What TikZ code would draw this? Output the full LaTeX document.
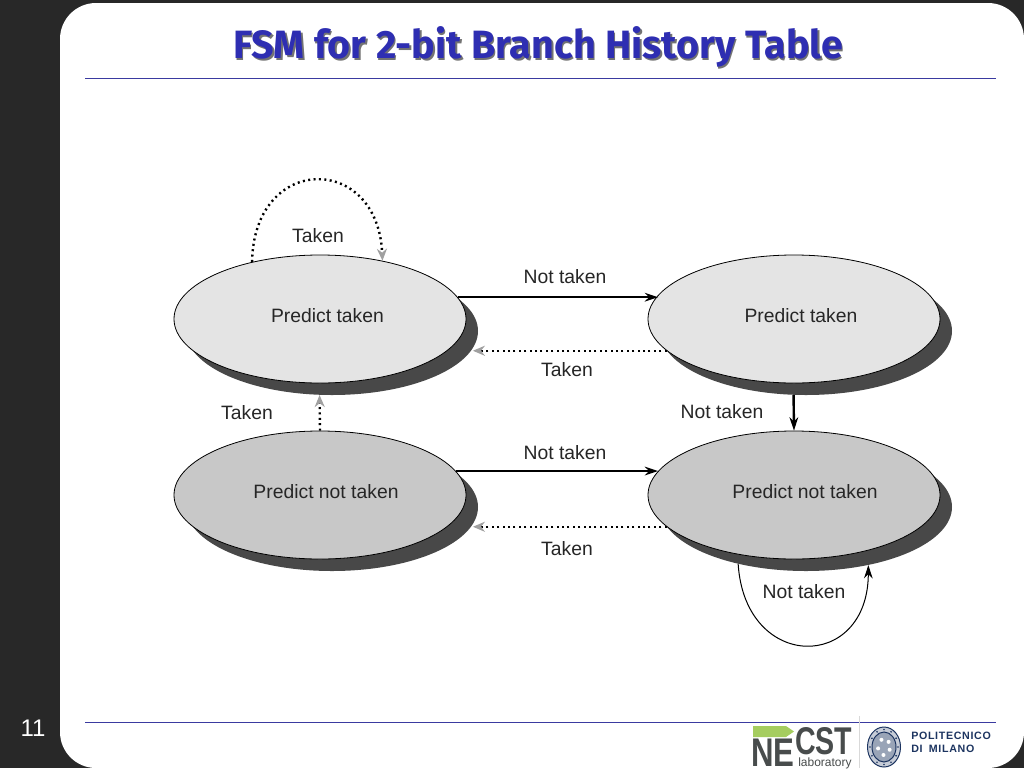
\documentclass[tikz,border=0pt]{standalone}
\usepackage{fontspec}
\setmainfont{Liberation Sans}
\newfontfamily\titlefont{Fira Sans}
\usetikzlibrary{shapes.geometric,arrows.meta}
\newlength{\du}
\setlength{\du}{0.75pt}
\definecolor{slidebg}{RGB}{40,40,40}
\definecolor{rulecolor}{RGB}{58,58,160}
\definecolor{titlecolor}{RGB}{46,46,178}
\definecolor{topfill}{RGB}{228,228,228}
\definecolor{lowfill}{RGB}{200,200,200}
\definecolor{shadowfill}{RGB}{72,72,72}
\definecolor{headgray}{RGB}{160,160,160}
\definecolor{necgreen}{RGB}{165,205,95}
\definecolor{necgray}{RGB}{72,76,76}
\definecolor{polinavy}{RGB}{28,52,96}
\tikzset{
  fsmstate/.style={ellipse,draw=black,line width=0.8\du,minimum width=292\du,minimum height=128\du,inner sep=0pt},
  fsmshadow/.style={ellipse,fill=shadowfill,minimum width=292\du,minimum height=128\du,inner sep=0pt},
  fsmtext/.style={font=\fontsize{14.5pt}{16pt}\selectfont,text=black!85,inner sep=0pt},
  taken/.style={line width=2.4\du,dash pattern=on 2\du off 3.4\du,-{Stealth[length=9pt,width=7.5pt,color=headgray]}},
  nottaken/.style={line width=2.4\du,-{Stealth[length=10pt,width=6.5pt,color=black]}},
  logotext/.style={inner sep=0pt,anchor=base west,text depth=0pt,text=necgray},
  politext/.style={inner sep=0pt,anchor=base west,text depth=0pt,text=polinavy,font=\bfseries\fontsize{8pt}{9pt}\selectfont},
}
\begin{document}
\begin{tikzpicture}[x=\du,y=-\du]
\useasboundingbox (0,0) rectangle (1024,768);
% slide
\fill[slidebg] (0,0) rectangle (1024,768);
\fill[white,rounded corners=36\du] (60,3) -- (1024,3) -- (1024,768) -- (60,768) -- cycle;
\node (fsmtitleb) [inner sep=0pt,font=\titlefont\bfseries\fontsize{29.6pt}{32pt}\selectfont,text=black!55] at (539.5,48.5) {FSM for 2-bit Branch History Table};
\node (fsmtitle) [inner sep=0pt,font=\titlefont\bfseries\fontsize{29.6pt}{32pt}\selectfont,text=titlecolor] at (538,47) {FSM for 2-bit Branch History Table};
\coordinate (rulea) at (85,78);
\coordinate (ruleb) at (996,78);
\coordinate (rulec) at (85,722);
\coordinate (ruled) at (996,722);
\draw[rulecolor,line width=1\du] (rulea) -- (ruleb);
\draw[rulecolor,line width=1\du] (rulec) -- (ruled);
\node (pagenum) [text=white,inner sep=0pt,font=\fontsize{18pt}{20pt}\selectfont] at (33,728) {11};
% shadows
\node (ptlshadow) [fsmshadow] at (332,331) {};
\node (ptrshadow) [fsmshadow] at (806,331) {};
\node (pnlshadow) [fsmshadow] at (332,507) {};
\node (pnrshadow) [fsmshadow] at (806,507) {};
% states
\node (ptl) [fsmstate,fill=topfill] at (320,319) {};
\node (ptr) [fsmstate,fill=topfill] at (794,319) {};
\node (pnl) [fsmstate,fill=lowfill] at (320,495) {};
\node (pnr) [fsmstate,fill=lowfill] at (794,495) {};
\node (ptltext) [fsmtext] at (327.5,316) {Predict taken};
\node (ptrtext) [fsmtext] at (801,316) {Predict taken};
\node (pnltext) [fsmtext] at (326,492) {Predict not taken};
\node (pnrtext) [fsmtext] at (805,492) {Predict not taken};
% connectors
\draw[nottaken] (ptl.9.6) -- (ptl.9.6 -| ptr.170);
\draw[nottaken] (pnl.10.4) -- (pnl.10.4 -| pnr.170);
\draw[taken] (ptr.194.5) -- (ptr.194.5 -| ptlshadow.-7.8);
\draw[taken] (pnr.194.9) -- (pnr.194.9 -| pnlshadow.-7.8);
\draw[taken] (pnl.north) -- (ptlshadow.259.3);
\draw[nottaken] (ptrshadow.259.3) -- (pnr.north);
\draw[taken] (ptl.140.2) .. controls (254,153) and (378,153) .. (ptl.43.6);
\draw[line width=1\du,-{Stealth[length=10pt,width=6.5pt,color=black]}] (pnrshadow.220.8) .. controls (745,672) and (868,672) .. (pnrshadow.-43);
% labels
\node (lbla) [fsmtext] at (318,235.5) {Taken};
\node (lblb) [fsmtext] at (565,276.5) {Not taken};
\node (lblc) [fsmtext] at (567,369.5) {Taken};
\node (lbld) [fsmtext] at (247,412.5) {Taken};
\node (lble) [fsmtext] at (722,411.5) {Not taken};
\node (lblf) [fsmtext] at (565,452.5) {Not taken};
\node (lblg) [fsmtext] at (567,548.5) {Taken};
\node (lblh) [fsmtext] at (804,591.5) {Not taken};
% logos
\draw[black!15,line width=0.8\du] (859,716) -- (859,768);
\fill[necgreen] (753,726) -- (786,726) -- (794,731.5) -- (786,737) -- (753,737) -- cycle;
\node (neclogo) [logotext,font=\bfseries\fontsize{30pt}{30pt}\selectfont,xscale=0.78] at (751,766) {NE};
\node (cstlogo) [logotext,font=\bfseries\fontsize{29pt}{29pt}\selectfont,xscale=0.74] at (795,754) {CST};
\node (lablogo) [logotext,font=\fontsize{9pt}{10pt}\selectfont] at (798,766) {laboratory};
\node (seal) [ellipse,draw=polinavy,line width=1\du,fill=polinavy!25,minimum width=33\du,minimum height=40\du,inner sep=0pt] at (884,747) {};
\node (sealin) [ellipse,draw=polinavy,line width=1\du,fill=polinavy!45,minimum width=24\du,minimum height=30\du,inner sep=0pt] at (884,747) {};
\foreach \sa in {0,30,...,330}
  \fill[polinavy] (sealin.center) ++(\sa:14 and 17.5) circle (0.9);
\foreach \sb in {20,95,...,320}
  \fill[white] (sealin.center) ++(\sb:6 and 8) circle (2);
\node (polia) [politext] at (911,739) {P\kern.5pt O\kern.5pt L\kern.5pt I\kern.5pt T\kern.5pt E\kern.5pt C\kern.5pt N\kern.5pt I\kern.5pt C\kern.5pt O};
\node (polib) [politext] at (911,752) {D\kern.5pt I\kern2.5pt\ M\kern.5pt I\kern.5pt L\kern.5pt A\kern.5pt N\kern.5pt O};
\end{tikzpicture}
\end{document}
